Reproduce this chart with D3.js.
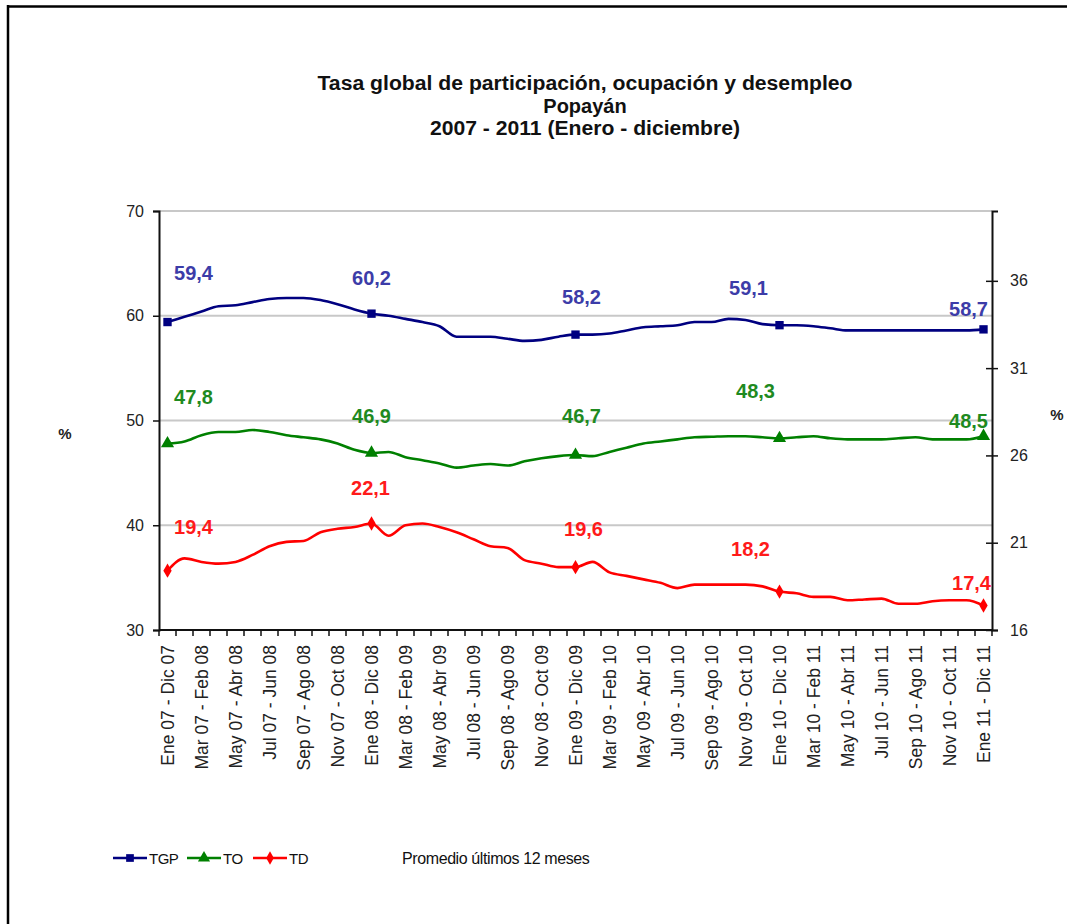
<!DOCTYPE html>
<html>
<head>
<meta charset="utf-8">
<script src="https://cdn.jsdelivr.net/npm/d3@7"></script>
<style>
  html, body { margin: 0; padding: 0; background: #fff; }
  svg { display: block; }
  text { font-family: "Liberation Sans", Arial, sans-serif; }
</style>
</head>
<body>
<svg id="chart" width="1067" height="924"></svg>
<script>
// ---------------- DATA ----------------
const categories = [
  "Ene 07 - Dic 07","Feb 07 - Ene 08","Mar 07 - Feb 08","Abr 07 - Mar 08","May 07 - Abr 08","Jun 07 - May 08",
  "Jul 07 - Jun 08","Ago 07 - Jul 08","Sep 07 - Ago 08","Oct 07 - Sep 08","Nov 07 - Oct 08","Dic 07 - Nov 08",
  "Ene 08 - Dic 08","Feb 08 - Ene 09","Mar 08 - Feb 09","Abr 08 - Mar 09","May 08 - Abr 09","Jun 08 - May 09",
  "Jul 08 - Jun 09","Ago 08 - Jul 09","Sep 08 - Ago 09","Oct 08 - Sep 09","Nov 08 - Oct 09","Dic 08 - Nov 09",
  "Ene 09 - Dic 09","Feb 09 - Ene 10","Mar 09 - Feb 10","Abr 09 - Mar 10","May 09 - Abr 10","Jun 09 - May 10",
  "Jul 09 - Jun 10","Ago 09 - Jul 10","Sep 09 - Ago 10","Oct 09 - Sep 10","Nov 09 - Oct 10","Dic 09 - Nov 10",
  "Ene 10 - Dic 10","Feb 10 - Ene 11","Mar 10 - Feb 11","Abr 10 - Mar 11","May 10 - Abr 11","Jun 10 - May 11",
  "Jul 10 - Jun 11","Ago 10 - Jul 11","Sep 10 - Ago 11","Oct 10 - Sep 11","Nov 10 - Oct 11","Dic 10 - Nov 11",
  "Ene 11 - Dic 11"
];
// Labels shown on the axis (every second category)
const tickLabels = [
  "Ene 07 - Dic 07","Mar 07 - Feb 08","May 07 - Abr 08","Jul 07 - Jun 08","Sep 07 - Ago 08","Nov 07 - Oct 08",
  "Ene 08 - Dic 08","Mar 08 - Feb 09","May 08 - Abr 09","Jul 08 - Jun 09","Sep 08 - Ago 09","Nov 08 - Oct 09",
  "Ene 09 - Dic 09","Mar 09 - Feb 10","May 09 - Abr 10","Jul 09 - Jun 10","Sep 09 - Ago 10","Nov 09 - Oct 10",
  "Ene 10 - Dic 10","Mar 10 - Feb 11","May 10 - Abr 11","Jul 10 - Jun 11","Sep 10 - Ago 11","Nov 10 - Oct 11",
  "Ene 11 - Dic 11"
];

const TGP = [59.4,59.9,60.4,60.9,61.0,61.3,61.6,61.7,61.7,61.5,61.1,60.6,
             60.2,60.0,59.7,59.4,59.0,58.0,58.0,58.0,57.8,57.6,57.7,58.0,
             58.2,58.2,58.3,58.6,58.9,59.0,59.1,59.4,59.4,59.7,59.6,59.2,
             59.1,59.1,59.0,58.8,58.6,58.6,58.6,58.6,58.6,58.6,58.6,58.6,
             58.7];
const TO  = [47.8,48.0,48.6,48.9,48.9,49.1,48.9,48.6,48.4,48.2,47.8,47.2,
             46.9,47.0,46.5,46.2,45.9,45.5,45.7,45.85,45.7,46.1,46.4,46.6,
             46.7,46.6,47.0,47.4,47.8,48.0,48.2,48.4,48.45,48.5,48.5,48.4,
             48.3,48.4,48.5,48.3,48.2,48.2,48.2,48.3,48.4,48.2,48.2,48.2,
             48.5];
const TD  = [19.4,20.1,19.9,19.8,19.9,20.3,20.8,21.05,21.1,21.6,21.8,21.9,
             22.1,21.4,22.0,22.1,21.9,21.6,21.2,20.8,20.7,20.0,19.8,19.6,
             19.6,19.9,19.3,19.1,18.9,18.7,18.4,18.6,18.6,18.6,18.6,18.5,
             18.2,18.1,17.9,17.9,17.7,17.75,17.8,17.5,17.5,17.65,17.7,17.7,
             17.4];

const markerIdx = [0, 12, 24, 36, 48];
const leftTicks = [30, 40, 50, 60, 70];
const rightTicks = [16, 21, 26, 31, 36];
const gridTicks = [40, 50, 60, 70];

const titleLines = ["Tasa global de participación, ocupación y desempleo", "Popayán", "2007 - 2011 (Enero - diciembre)"];
const legendNames = ["TGP", "TO", "TD"];
const noteText = "Promedio últimos 12 meses";

// ---------------- LAYOUT ----------------
const L = { left: 159, right: 992, top: 211, bottom: 630 };
const colors = { TGP: "#000080", TO: "#008000", TD: "#ff0000" };
const labelColors = { TGP: "#3c3ca8", TO: "#1f8a1f", TD: "#ff1a1a" };
const labelOffsets = {
  TGP: [[26,-42],[0,-29],[6,-31],[-31,-30],[-15,-13]],
  TO:  [[26,-40],[0,-30],[6,-32],[-24,-40],[-15,-8]],
  TD:  [[26,-37],[-1,-29],[8,-31],[-29,-36],[-12,-16]]
};
const titleBaselines = [90, 112.5, 135];
const titleLengths = [535, null, 310];

const svg = d3.select("#chart");

// frame
svg.append("line").attr("x1", 8).attr("x2", 1067).attr("y1", 6.5).attr("y2", 6.5).attr("stroke", "#000").attr("stroke-width", 2.5);
svg.append("line").attr("x1", 8).attr("x2", 8).attr("y1", 5).attr("y2", 924).attr("stroke", "#000").attr("stroke-width", 2.5);

// scales
const x = d3.scaleBand().domain(categories).range([L.left, L.right]).padding(0);
const cx = c => x(c) + x.bandwidth() / 2;
const yL = d3.scaleLinear().domain([30, 70]).range([L.bottom, L.top]);
const yR = d3.scaleLinear().domain([16, 40]).range([L.bottom, L.top]);

// title
const title = svg.append("g");
titleLines.forEach((t, i) => {
  const tx = title.append("text").attr("x", 585).attr("y", titleBaselines[i])
    .attr("text-anchor", "middle").attr("font-weight", "bold").attr("font-size", 20)
    .attr("fill", "#111").text(t);
  if (titleLengths[i]) tx.attr("textLength", titleLengths[i]).attr("lengthAdjust", "spacingAndGlyphs");
});

// gridlines
svg.append("g").selectAll("line").data(gridTicks).join("line")
  .attr("x1", L.left).attr("x2", L.right)
  .attr("y1", d => yL(d)).attr("y2", d => yL(d))
  .attr("stroke", "#c8c8c8").attr("stroke-width", 2);

// left axis
const gL = svg.append("g").attr("transform", `translate(${L.left},0)`)
  .call(d3.axisLeft(yL).tickValues(leftTicks).tickSize(6).tickPadding(9));
gL.select(".domain").attr("stroke", "#111").attr("stroke-width", 2);
gL.selectAll(".tick line").attr("stroke", "#111").attr("stroke-width", 1.5);
gL.selectAll(".tick text").attr("font-size", 16).attr("fill", "#222").attr("font-family", "Liberation Sans, Arial, sans-serif");

// right axis (ticks cross the axis)
const gR = svg.append("g").attr("transform", `translate(${L.right},0)`)
  .call(d3.axisRight(yR).tickValues(rightTicks).tickSize(6).tickPadding(12));
gR.select(".domain").attr("stroke", "#111").attr("stroke-width", 2);
gR.selectAll(".tick line").attr("x1", -6).attr("stroke", "#111").attr("stroke-width", 1.5);
gR.selectAll(".tick text").attr("font-size", 16).attr("fill", "#222").attr("font-family", "Liberation Sans, Arial, sans-serif");

// x axis
const gX = svg.append("g").attr("transform", `translate(0,${L.bottom})`);
gX.append("line").attr("x1", L.left).attr("x2", L.right).attr("y1", 0).attr("y2", 0)
  .attr("stroke", "#111").attr("stroke-width", 2);
const edges = categories.map(c => x(c)).concat([x(categories[categories.length - 1]) + x.bandwidth()]);
gX.selectAll("line.tk").data(edges).join("line").attr("class", "tk")
  .attr("x1", d => d).attr("x2", d => d).attr("y1", 0).attr("y2", 6)
  .attr("stroke", "#111").attr("stroke-width", 1.5);
gX.selectAll("text").data(tickLabels).join("text")
  .attr("transform", d => `translate(${cx(d) + 6.5},15) rotate(-90)`)
  .attr("text-anchor", "end").attr("font-size", 17.5).attr("fill", "#222")
  .text(d => d);

// % labels
svg.append("text").attr("x", 65).attr("y", 439).attr("text-anchor", "middle")
  .attr("font-weight", "bold").attr("font-size", 15).attr("fill", "#222").text("%");
svg.append("text").attr("x", 1057).attr("y", 420).attr("text-anchor", "middle")
  .attr("font-weight", "bold").attr("font-size", 15).attr("fill", "#222").text("%");

// series
const series = [
  { name: "TGP", values: TGP, y: yL, marker: d3.symbolSquare, size: 70 },
  { name: "TO",  values: TO,  y: yL, marker: d3.symbolTriangle, size: 75 },
  { name: "TD",  values: TD,  y: yR, marker: d3.symbolDiamond, size: 60 }
];
const fmt = v => d3.format(".1f")(v).replace(".", ",");

series.forEach(s => {
  const line = d3.line()
    .x((d, i) => cx(categories[i]))
    .y(d => s.y(d))
    .curve(d3.curveMonotoneX);
  svg.append("path").datum(s.values).attr("d", line)
    .attr("fill", "none").attr("stroke", colors[s.name]).attr("stroke-width", 2.6)
    .attr("stroke-linejoin", "round");
  svg.append("g").selectAll("path").data(markerIdx).join("path")
    .attr("d", d3.symbol().type(s.marker).size(s.size))
    .attr("transform", i => `translate(${cx(categories[i])},${s.y(s.values[i])})`)
    .attr("fill", colors[s.name]);
  svg.append("g").selectAll("text").data(markerIdx).join("text")
    .attr("x", (i, k) => cx(categories[i]) + labelOffsets[s.name][k][0])
    .attr("y", (i, k) => s.y(s.values[i]) + labelOffsets[s.name][k][1])
    .attr("text-anchor", "middle").attr("font-size", 20).attr("font-weight", "bold")
    .attr("fill", labelColors[s.name])
    .text(i => fmt(s.values[i]));
});

// legend
const legendX = [113, 187, 253];
const lg = svg.append("g");
series.forEach((s, k) => {
  const g = lg.append("g").attr("transform", `translate(${legendX[k]},858)`);
  g.append("line").attr("x1", 0).attr("x2", 34).attr("y1", 0).attr("y2", 0)
    .attr("stroke", colors[s.name]).attr("stroke-width", 2.6);
  g.append("path").attr("d", d3.symbol().type(s.marker).size(s.size * 0.85)())
    .attr("transform", "translate(17,0)").attr("fill", colors[s.name]);
  g.append("text").attr("x", 36).attr("y", 6).attr("font-size", 15).attr("fill", "#111")
    .attr("letter-spacing", -0.5).text(legendNames[k]);
});
svg.append("text").attr("x", 402).attr("y", 864).attr("font-size", 16).attr("fill", "#111")
  .attr("letter-spacing", -0.4).text(noteText);
</script>
</body>
</html>
